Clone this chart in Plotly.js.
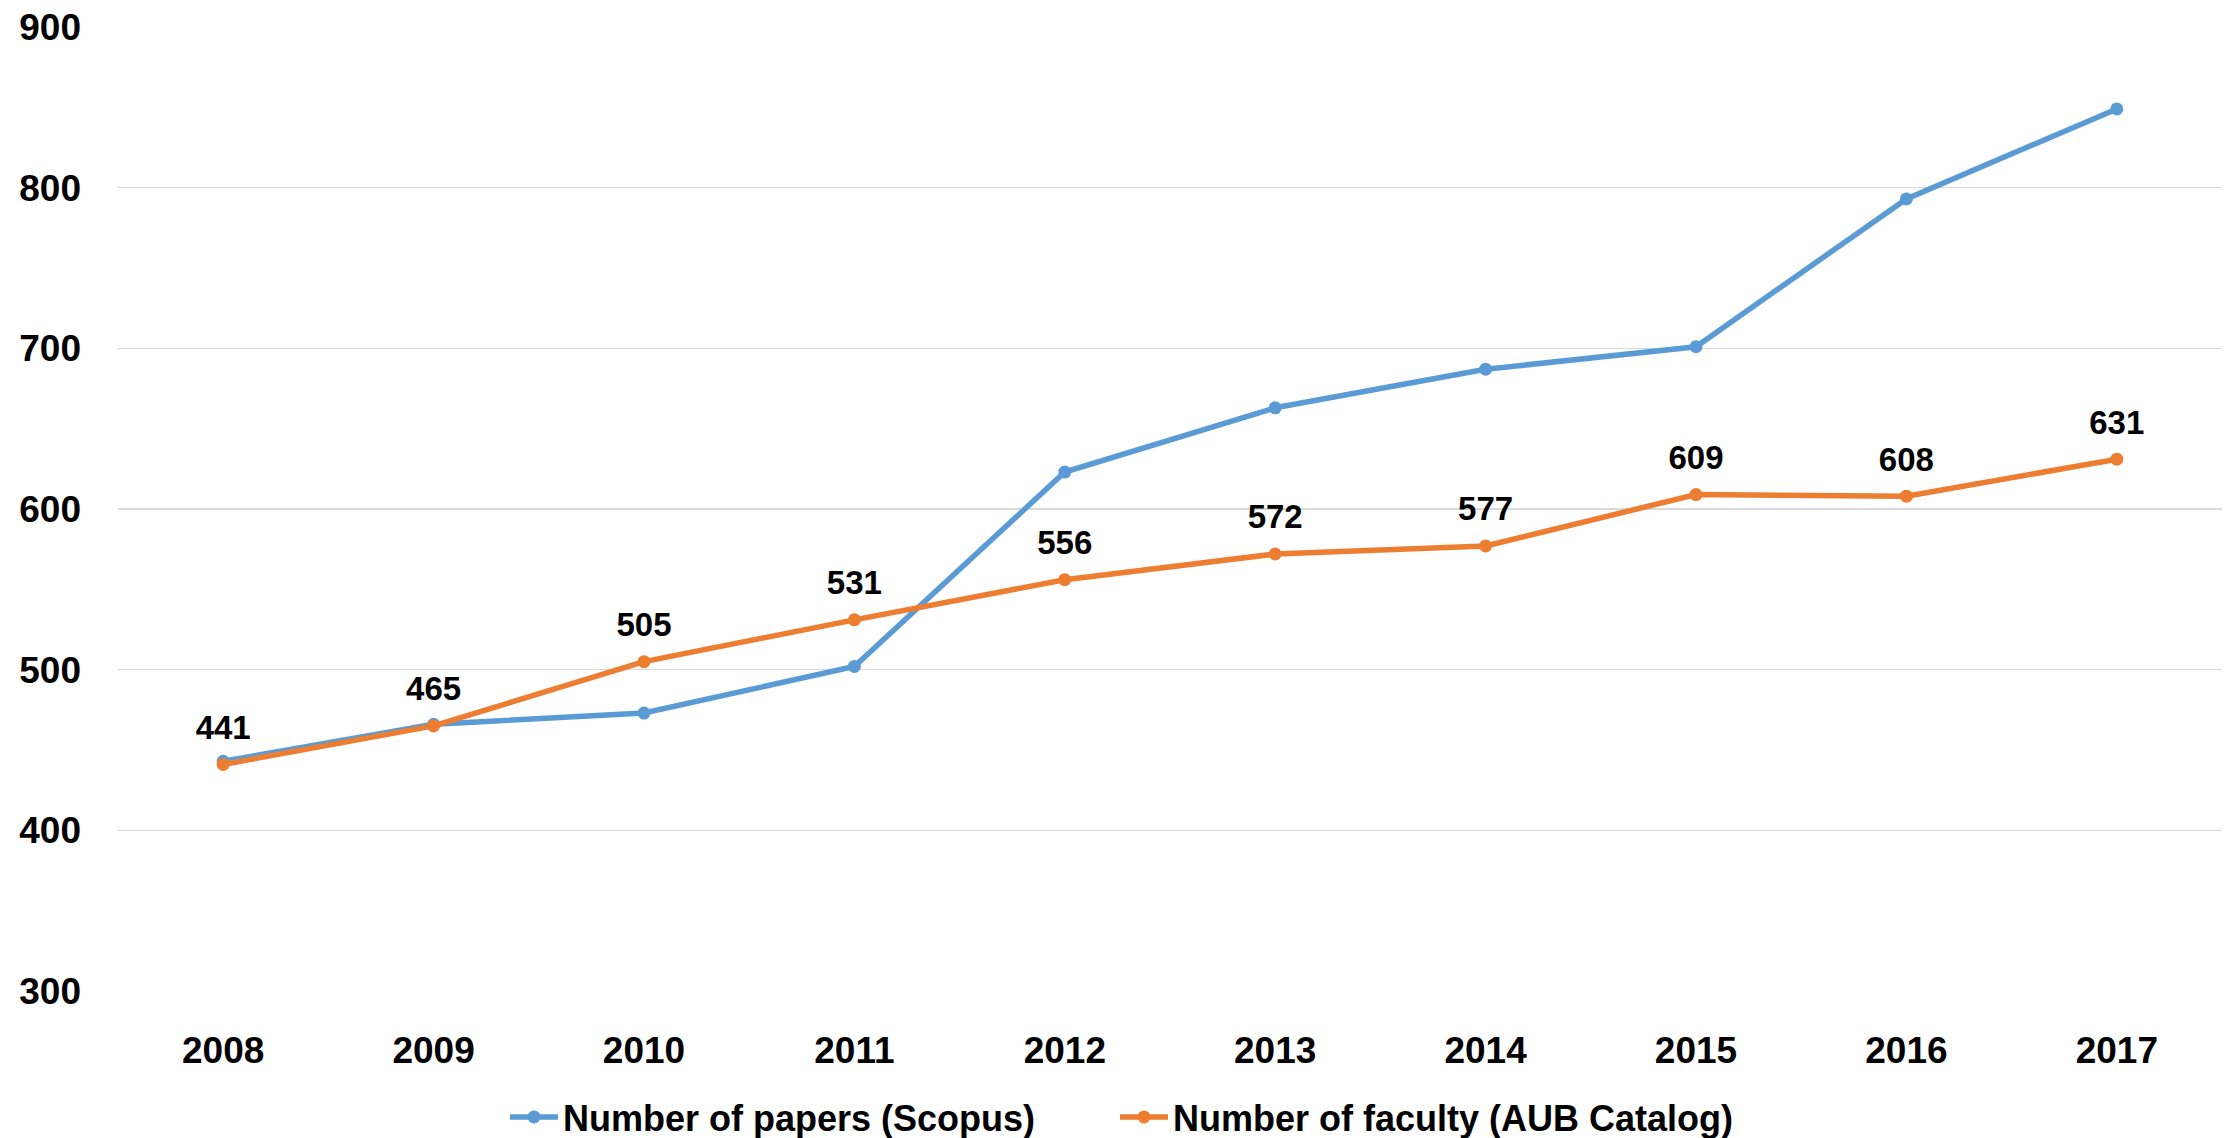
<!DOCTYPE html>
<html>
<head>
<meta charset="utf-8">
<script src="https://cdn.plot.ly/plotly-3.0.1.min.js"></script>
<style>html,body{margin:0;padding:0;background:#fff;}#chart{width:2228px;height:1138px;}</style>
</head>
<body>
<div id="chart"></div>
<script>
const years = ['2008','2009','2010','2011','2012','2013','2014','2015','2016','2017'];
const papers = [443, 466, 473, 502, 623, 663, 687, 701, 793, 849];
const faculty = [441, 465, 505, 531, 556, 572, 577, 609, 608, 631];
const seriesNames = ['Number of papers (Scopus)', 'Number of faculty (AUB Catalog)'];
const yTicks = [300, 400, 500, 600, 700, 800, 900];

const FONT = 'Liberation Sans, Arial, sans-serif';
const BLUE = '#5B9BD5';
const ORANGE = '#ED7D31';

const traces = [
  {
    x: years, y: papers, name: seriesNames[0], type: 'scatter', mode: 'lines+markers',
    line: {color: BLUE, width: 5.5}, marker: {color: BLUE, size: 13},
    legend: 'legend'
  },
  {
    x: years, y: faculty, name: seriesNames[1], type: 'scatter', mode: 'lines+markers',
    line: {color: ORANGE, width: 5.5}, marker: {color: ORANGE, size: 13},
    legend: 'legend2'
  },
  {
    x: years, y: faculty, type: 'scatter', mode: 'markers+text', showlegend: false,
    text: faculty.map(String), textposition: 'top center',
    textfont: {family: FONT, size: 33, color: '#000', weight: 'bold'},
    marker: {size: 26, color: 'rgba(0,0,0,0)'}, cliponaxis: false
  }
];

const legendCommon = {
  orientation: 'h', yref: 'container', y: 1 - 1117/1138, yanchor: 'middle',
  xref: 'container', xanchor: 'left', bgcolor: 'rgba(0,0,0,0)',
  font: {family: FONT, size: 36, color: '#000', weight: 'bold'},
  itemwidth: 48, borderwidth: 0
};

const layout = {
  width: 2228, height: 1138,
  margin: {l: 118, r: 6, t: 27, b: 147},
  paper_bgcolor: '#fff', plot_bgcolor: '#fff',
  font: {family: FONT, color: '#000'},
  xaxis: {
    type: 'category', range: [-0.5, 9.5], showgrid: false, zeroline: false,
    showline: false, ticks: '', ticklabelstandoff: 34,
    tickfont: {family: FONT, size: 37, color: '#000', weight: 'bold'}
  },
  yaxis: {
    range: [300, 900], tickvals: yTicks, ticktext: yTicks.map(String),
    showgrid: true, gridcolor: '#D9D9D9', gridwidth: 1.5, zeroline: false,
    showline: false, ticks: '', ticklabelstandoff: 36,
    tickfont: {family: FONT, size: 37, color: '#000', weight: 'bold'}
  },
  showlegend: true,
  legend: Object.assign({}, legendCommon, {x: 505/2228}),
  legend2: Object.assign({}, legendCommon, {x: 1115/2228})
};

Plotly.newPlot('chart', traces, layout, {displayModeBar: false, staticPlot: true});
</script>
</body>
</html>
